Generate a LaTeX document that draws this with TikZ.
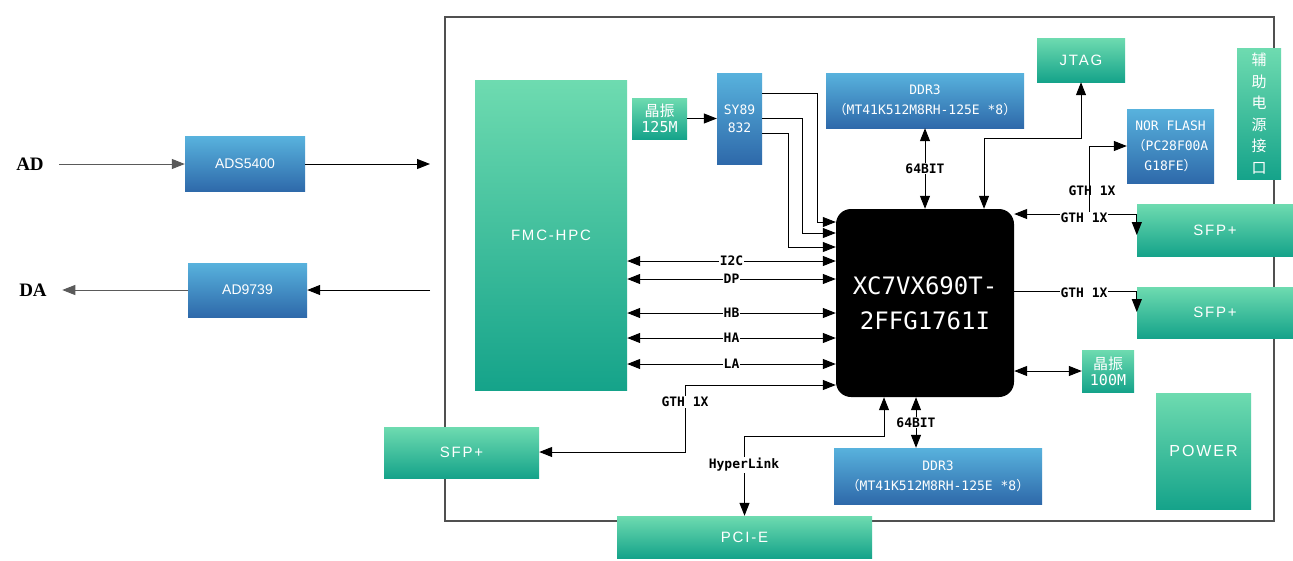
\documentclass[tikz,border=0pt]{standalone}
\usepackage{fontspec}
\setmainfont{Liberation Sans}
\newfontfamily\cjk{Noto Sans CJK SC}
\newfontfamily\heimono{DejaVu Sans Mono}
\newfontfamily\serifbold{Liberation Serif}
\newfontfamily\wide[LetterSpace=12]{Liberation Sans}
\usepackage{xcolor}
\usepackage{tikz}
\usetikzlibrary{positioning, arrows.meta, calc}
\definecolor{greentop}{HTML}{6EDBB0}
\definecolor{greenbot}{HTML}{15A38A}
\definecolor{bluetop}{HTML}{58B2DD}
\definecolor{bluebot}{HTML}{2E69AA}
\definecolor{framegray}{HTML}{505050}
\definecolor{wiregray}{HTML}{5A5A5A}

\begin{document}
\begin{tikzpicture}[x=1pt, y=-1pt,
    box/.style={draw=none, inner sep=0pt, align=center, text=white},
    greenbox/.style={box, top color=greentop, bottom color=greenbot},
    bluebox/.style={box, top color=bluetop, bottom color=bluebot},
    arr/.style={-{Triangle[length=13pt,width=10pt]}, line width=1pt},
    biarr/.style={{Triangle[length=13pt,width=10pt]}-{Triangle[length=13pt,width=10pt]}, line width=1pt},
    grayarr/.style={arr, draw=wiregray},
    lbl/.style={fill=white, inner sep=1pt, font=\heimono\bfseries\fontsize{13}{13}\selectfont}]

    \useasboundingbox (0,0) rectangle (1293,560);
    \fill[white] (0,0) rectangle (1293,560);

    % board outline
    \draw[framegray, line width=1.2pt] (445,17) rectangle (1274,521);

    % left side converters
    \node[font=\serifbold\bfseries\fontsize{19}{19}\selectfont] (ad) at (30,164) {AD};
    \node[font=\serifbold\bfseries\fontsize{19}{19}\selectfont] (da) at (33,290) {DA};
    \node[bluebox, minimum width=120pt, minimum height=55pt, font=\fontsize{14}{14}\selectfont] (ads) at (245,164) {ADS5400};
    \node[bluebox, minimum width=119pt, minimum height=54pt, font=\fontsize{14}{14}\selectfont] (dac) at (247.5,290) {AD9739};
    \coordinate (adout) at (430,164);
    \coordinate (dain) at (430,290);

    % blocks on the board
    \node[greenbox, minimum width=152pt, minimum height=310pt, font=\wide\fontsize{15}{16}\selectfont] (fmc) at (551,235) {FMC-HPC};
    \node[greenbox, minimum width=55pt, minimum height=41pt, font=\heimono\fontsize{15}{16}\selectfont] (xtalA) at (659.5,118.5) {{\cjk 晶振}\\125M};
    \node[bluebox, minimum width=45pt, minimum height=91pt, font=\heimono\fontsize{13}{18}\selectfont] (sy) at (739.5,118.5) {SY89\\832};
    \node[bluebox, minimum width=198pt, minimum height=55pt, font=\heimono\fontsize{13}{20}\selectfont] (ddrtop) at (925,100.5) {DDR3\\{\cjk （}MT41K512M8RH-125E *8{\cjk ）}};
    \node[greenbox, minimum width=88pt, minimum height=44pt, font=\wide\fontsize{15}{15}\selectfont] (jtag) at (1081,60) {JTAG};
    \node[bluebox, minimum width=87pt, minimum height=74pt, font=\heimono\fontsize{13}{20}\selectfont] (nor) at (1170.5,146) {NOR FLASH\\{\cjk （}PC28F00A\\G18FE{\cjk ）}};
    \node[greenbox, minimum width=44pt, minimum height=131pt, font=\cjk\fontsize{15}{21.5}\selectfont] (aux) at (1259,113.5) {辅\\助\\电\\源\\接\\口};
    \node[greenbox, minimum width=156pt, minimum height=52pt, font=\wide\fontsize{15}{15}\selectfont] (sfpA) at (1215,230) {SFP+};
    \node[greenbox, minimum width=156pt, minimum height=51pt, font=\wide\fontsize{15}{15}\selectfont] (sfpB) at (1215,312.5) {SFP+};
    \node[greenbox, minimum width=52pt, minimum height=42pt, font=\heimono\fontsize{15}{16}\selectfont] (xtalB) at (1108,371) {{\cjk 晶振}\\100M};
    \node[greenbox, minimum width=95pt, minimum height=116pt, font=\wide\fontsize{16}{16}\selectfont] (power) at (1203.5,451) {POWER};
    \node[fill=black, rounded corners=15pt, minimum width=178pt, minimum height=188pt, inner sep=0pt,
          align=center, text=white, font=\heimono\fontsize{24}{35}\selectfont] (fpga) at (925,303) {XC7VX690T-\\2FFG1761I};
    \node[bluebox, minimum width=208pt, minimum height=56pt, font=\heimono\fontsize{13}{20}\selectfont] (ddrbot) at (938,476) {DDR3\\{\cjk （}MT41K512M8RH-125E *8{\cjk ）}};
    \node[greenbox, minimum width=255pt, minimum height=42pt, font=\wide\fontsize{15}{15}\selectfont] (pcie) at (744.5,537) {PCI-E};
    \node[greenbox, minimum width=155pt, minimum height=51pt, font=\wide\fontsize{15}{15}\selectfont] (sfpL) at (461.5,452.5) {SFP+};

    % AD / DA paths
    \draw[grayarr] ([xshift=12pt]ad.east) -- (ads.west);
    \draw[arr] (ads.east) -- (adout);
    \draw[arr] (dain) -- (dac.east);
    \draw[grayarr] (dac.west) -- ([xshift=12pt]da.east);

    % clock tree
    \draw[arr] (xtalA) -- (sy);
    \draw[arr, line width=0.8pt] (sy.east |- 0,93) -| (817,222) -- (fpga.west |- 0,222);
    \draw[arr, line width=0.8pt] (sy.east |- 0,118) -| (802,233) -- (fpga.west |- 0,233);
    \draw[arr, line width=0.8pt] (sy.east |- 0,133) -| (788,247) -- (fpga.west |- 0,247);

    % FMC buses
    \draw[biarr] (fmc.east |- 0,261) -- (fpga.west |- 0,261) node[midway, lbl] {I2C};
    \draw[biarr] (fmc.east |- 0,279) -- (fpga.west |- 0,279) node[midway, lbl] {DP};
    \draw[biarr] (fmc.east |- 0,313) -- (fpga.west |- 0,313) node[midway, lbl] {HB};
    \draw[biarr] (fmc.east |- 0,338) -- (fpga.west |- 0,338) node[midway, lbl] {HA};
    \draw[biarr] (fmc.east |- 0,364) -- (fpga.west |- 0,364) node[midway, lbl] {LA};

    % memories and config
    \draw[biarr] (ddrtop.south) -- (fpga.north) node[midway, lbl] {64BIT};
    \draw[biarr] (fpga.north -| 984,0) |- (jtag.south |- 0,138) -- (jtag.south);
    \draw[biarr] (fpga.south -| 916,0) -- (ddrbot.north -| 916,0) node[midway, lbl] {64BIT};

    % transceivers
    \coordinate (gthsplit) at (1089,214);
    \draw[biarr] (fpga.east |- 0,214) -- (sfpA.west |- 0,214) -- (sfpA.west |- 0,235);
    \draw[arr] (gthsplit) |- (nor.west);
    \node[lbl, fill=none] (gthnor) at (1092,191) {GTH 1X};
    \node[lbl] (gthA) at (1084,218) {GTH 1X};
    \draw[arr] (fpga.east |- 0,291) -- (sfpB.west |- 0,291) -- (sfpB.west |- 0,312);
    \node[lbl] (gthB) at (1084,293) {GTH 1X};
    \draw[biarr] (fpga.east |- xtalB) -- (xtalB.west);
    \draw[biarr] (fpga.west |- 0,385) -| (685,452) -- (sfpL.east |- 0,452);
    \node[lbl] (gthL) at (685,402) {GTH 1X};

    % host link
    \draw[biarr] (fpga.south -| 884,0) |- (pcie.north |- 0,436) -- (pcie.north);
    \node[lbl] (hyper) at (744,465) {HyperLink};
\end{tikzpicture}
\end{document}
